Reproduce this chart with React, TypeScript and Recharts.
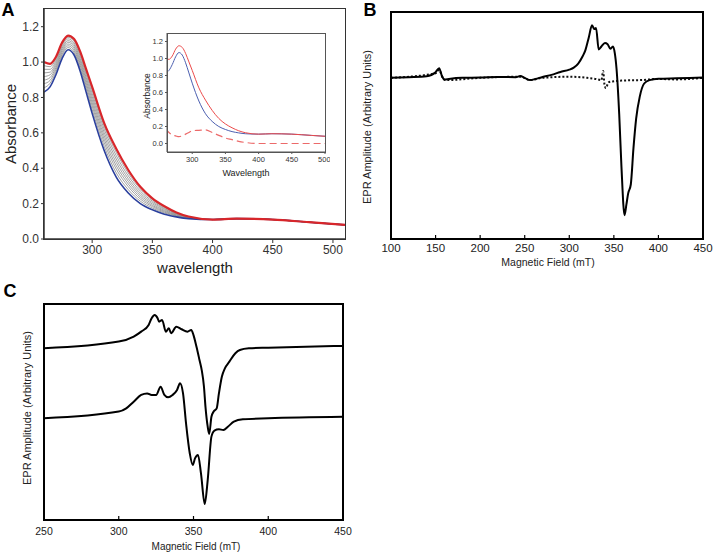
import { LineChart, Line, XAxis, YAxis } from "recharts";

// Panel A: UV-vis spectra (absorbance vs wavelength, nm)
const wavelengths = [260, 265, 270, 275, 280, 285, 290, 295, 300, 310, 320, 330, 340, 350, 360, 370, 380, 400, 420, 450, 480, 510];
const blueSpectrum = [0.83, 0.86, 0.93, 1.02, 1.07, 1.04, 0.95, 0.83, 0.71, 0.5, 0.35, 0.26, 0.2, 0.165, 0.14, 0.125, 0.115, 0.11, 0.115, 0.11, 0.095, 0.08];
const redSpectrum = [1.0, 0.99, 1.03, 1.11, 1.15, 1.13, 1.06, 0.96, 0.86, 0.655, 0.51, 0.39, 0.295, 0.23, 0.185, 0.15, 0.127, 0.11, 0.115, 0.11, 0.095, 0.08];
const gray1 = [0.855, 0.88, 0.945, 1.035, 1.082, 1.054, 0.966, 0.85, 0.732, 0.524, 0.374, 0.279, 0.214, 0.175, 0.147, 0.129, 0.117, 0.11, 0.115, 0.11, 0.095, 0.08];
const gray2 = [0.878, 0.896, 0.958, 1.045, 1.092, 1.065, 0.981, 0.866, 0.752, 0.545, 0.395, 0.296, 0.226, 0.183, 0.152, 0.132, 0.119, 0.11, 0.115, 0.11, 0.095, 0.08];
const gray3 = [0.898, 0.912, 0.97, 1.056, 1.102, 1.076, 0.994, 0.882, 0.77, 0.564, 0.414, 0.311, 0.237, 0.19, 0.157, 0.135, 0.12, 0.11, 0.115, 0.11, 0.095, 0.08];
const gray4 = [0.918, 0.928, 0.982, 1.067, 1.112, 1.087, 1.007, 0.898, 0.788, 0.583, 0.433, 0.326, 0.248, 0.198, 0.162, 0.138, 0.122, 0.11, 0.115, 0.11, 0.095, 0.08];
const gray5 = [0.939, 0.943, 0.994, 1.078, 1.121, 1.098, 1.02, 0.913, 0.806, 0.602, 0.452, 0.341, 0.259, 0.206, 0.168, 0.141, 0.123, 0.11, 0.115, 0.11, 0.095, 0.08];
const gray6 = [0.959, 0.959, 1.006, 1.088, 1.131, 1.108, 1.034, 0.929, 0.824, 0.621, 0.471, 0.357, 0.271, 0.214, 0.173, 0.144, 0.124, 0.11, 0.115, 0.11, 0.095, 0.08];
const gray7 = [0.98, 0.974, 1.018, 1.099, 1.14, 1.119, 1.047, 0.944, 0.842, 0.638, 0.49, 0.373, 0.283, 0.222, 0.179, 0.147, 0.126, 0.11, 0.115, 0.11, 0.095, 0.08];
const differenceSpectrum = [0.17, 0.13, 0.1, 0.09, 0.08, 0.09, 0.11, 0.13, 0.15, 0.155, 0.16, 0.13, 0.095, 0.065, 0.045, 0.025, 0.012, 0.0, 0.0, 0.0, 0.0, 0.0];
const grayKeys = ["g1", "g2", "g3", "g4", "g5", "g6", "g7"];
const grays = [gray1, gray2, gray3, gray4, gray5, gray6, gray7];

const absTicks = [0, 0.2, 0.4, 0.6, 0.8, 1.0, 1.2];
const wlTicksMain = [300, 350, 400, 450, 500];

// Panel B: EPR spectra, 100-450 mT
const fieldBSample = [100, 120, 140, 150, 154, 157, 160, 165, 180, 200, 220, 240, 245, 250, 256, 262, 270, 280, 290, 300, 305, 310, 315, 318, 322, 325.5, 328, 330, 333, 336, 340, 343, 346, 349, 351, 353, 356, 358.5, 362, 364, 366, 369, 372, 375, 379, 384, 390, 400, 420, 450];
const eprBSample = [71.0, 71.3, 71.7, 73.5, 75.2, 72, 70.2, 70.5, 71, 71.1, 71.4, 71.3, 71.8, 71, 70, 70.5, 71.4, 72.3, 73.6, 74.6, 75.5, 77.3, 80.5, 83.1, 89, 94.2, 92.5, 93, 83.5, 84.8, 86.3, 85.8, 83.8, 84.8, 82, 75, 55, 32, 10.5, 15, 20, 24, 40, 53, 62.6, 68.5, 70, 70.6, 70.8, 71.1];
const fieldBControl = [100, 150, 154, 158, 162, 200, 245, 256, 270, 300, 320, 330, 336, 338, 339.5, 341, 344, 350, 360, 380, 400, 420, 450];
const eprBControl = [71, 73, 74.5, 71, 70, 71, 71.5, 70, 71, 71.5, 71, 70.5, 70, 74, 68, 66.5, 69, 69.5, 69.8, 70, 70.5, 70.3, 71];
const fieldTicksB = [100, 150, 200, 250, 300, 350, 400, 450];

// Panel C: EPR spectra, 250-450 mT
const fieldCUpper = [250, 300, 310, 315, 320, 322, 324, 326, 327, 329, 331.5, 333.5, 335, 338.5, 342, 346, 348.5, 350, 352, 354, 355.5, 357, 358, 359.5, 360.5, 362, 363.5, 365.5, 367, 369, 371, 374, 378, 381, 387, 400, 450];
const eprCUpper = [79.5, 82.6, 84.9, 87.2, 90.3, 93.4, 94.9, 93.4, 91.8, 92.6, 87.2, 88.8, 86.5, 89.5, 88.3, 87.2, 88, 85.6, 80.2, 74.1, 69.4, 61.7, 52.5, 43.2, 39.8, 47.8, 50.2, 51.7, 58.6, 66.4, 70.2, 73.3, 77.2, 78.7, 79.5, 79.8, 80.6];
const fieldCLower = [250, 300, 305, 310, 315, 319, 322, 325, 328, 330.5, 333, 336, 339, 341, 343, 345, 347.5, 349.5, 351, 353, 355, 357.5, 359.5, 362, 364, 367, 370, 373, 377, 383, 400, 450];
const eprCLower = [47.1, 50.2, 51.7, 54.8, 57.9, 58.6, 57.9, 57.9, 61.7, 57.9, 56.8, 57.9, 60.2, 63.3, 58.6, 44.8, 30.9, 25.5, 28.5, 30.1, 21.6, 7.4, 18.5, 38.6, 41.4, 42, 41.7, 43.2, 45.5, 46.6, 47.1, 47.8];
const fieldTicksC = [250, 300, 350, 400, 450];

const zip = (xs: number[], ys: number[]) => xs.map((x, i) => ({ x, y: ys[i] }));

const spectraTable = wavelengths.map((wl, i) => {
  const row: Record<string, number> = {
    wl,
    blue: blueSpectrum[i],
    red: redSpectrum[i],
    diff: differenceSpectrum[i],
  };
  grays.forEach((g, k) => {
    row[grayKeys[k]] = g[i];
  });
  return row;
});

const FONT = "'Liberation Sans', Arial, sans-serif";

type TextProps = {
  x: number;
  y: number;
  text: string;
  size: number;
  rotate?: boolean;
  bold?: boolean;
};

function Caption({ x, y, text, size, rotate = false, bold = false }: TextProps) {
  return (
    <div
      style={{
        position: "absolute",
        left: x,
        top: y,
        transform: `translate(-50%, -50%)${rotate ? " rotate(-90deg)" : ""}`,
        fontSize: size,
        fontWeight: bold ? "bold" : "normal",
        color: bold ? "#000" : "#222",
        whiteSpace: "nowrap",
        lineHeight: 1,
      }}
    >
      {text}
    </div>
  );
}

// box drawn around a plot area (left, top, right, bottom in page pixels)
function Frame({ box, width, color }: { box: number[]; width: number; color: string }) {
  const [l, t, r, b] = box;
  return (
    <div
      style={{
        position: "absolute",
        left: l - width / 2,
        top: t - width / 2,
        width: r - l + width,
        height: b - t + width,
        border: `${width}px solid ${color}`,
        boxSizing: "border-box",
        pointerEvents: "none",
      }}
    />
  );
}

function App() {
  const axisA = { stroke: "#333", strokeWidth: 1.5 };
  const axisEpr = { stroke: "#000", strokeWidth: 2 };
  const sampleB = zip(fieldBSample, eprBSample);
  const upperC = zip(fieldCUpper, eprCUpper);

  return (
    <div
      style={{
        position: "absolute",
        left: 0,
        top: 0,
        width: 713,
        height: 553,
        background: "#fff",
        fontFamily: FONT,
      }}
    >
      {/* Panel A */}
      <div style={{ position: "absolute", left: 0, top: 0 }}>
        <LineChart width={360} height={275} data={spectraTable} margin={{ top: 9, right: 15, left: 0, bottom: 6 }}>
          <XAxis
            dataKey="wl"
            type="number"
            domain={[260, 510]}
            ticks={wlTicksMain}
            allowDataOverflow
            height={30}
            tickSize={4}
            tickMargin={2}
            axisLine={axisA}
            tickLine={{ stroke: "#333" }}
            tick={{ fontSize: 12, fill: "#333" }}
          />
          <YAxis
            type="number"
            domain={[0, 1.3]}
            ticks={absTicks}
            allowDataOverflow
            width={44}
            tickSize={3}
            tickMargin={2}
            axisLine={axisA}
            tickLine={{ stroke: "#333" }}
            tick={{ fontSize: 12, fill: "#333" }}
            tickFormatter={(v: number) => v.toFixed(1)}
          />
          {grayKeys.map((k) => (
            <Line key={k} type="monotone" dataKey={k} stroke="#8a8a8a" strokeWidth={0.8} dot={false} isAnimationActive={false} />
          ))}
          <Line type="monotone" dataKey="blue" stroke="#2a3f9d" strokeWidth={1.6} dot={false} isAnimationActive={false} />
          <Line type="monotone" dataKey="red" stroke="#d8262a" strokeWidth={2.2} dot={false} isAnimationActive={false} />
        </LineChart>
      </div>
      <Frame box={[44, 9, 345, 239]} width={1.5} color="#333" />

      {/* Panel A inset */}
      <div style={{ position: "absolute", left: 140, top: 25 }}>
        <LineChart width={190} height={160} data={spectraTable} margin={{ top: 8, right: 5, left: 0, bottom: 13 }}>
          <XAxis
            dataKey="wl"
            type="number"
            domain={[262, 500]}
            ticks={wlTicksMain}
            allowDataOverflow
            height={20}
            tickSize={2}
            tickMargin={3}
            axisLine={{ stroke: "#555", strokeWidth: 1 }}
            tickLine={{ stroke: "#555" }}
            tick={{ fontSize: 7.5, fill: "#333" }}
          />
          <YAxis
            type="number"
            domain={[-0.1, 1.3]}
            ticks={absTicks}
            allowDataOverflow
            width={27}
            tickSize={2}
            tickMargin={2}
            axisLine={{ stroke: "#555", strokeWidth: 1 }}
            tickLine={{ stroke: "#555" }}
            tick={{ fontSize: 7.5, fill: "#333" }}
            tickFormatter={(v: number) => v.toFixed(1)}
          />
          <Line type="monotone" dataKey="blue" stroke="#4c5fb0" strokeWidth={1} dot={false} isAnimationActive={false} />
          <Line type="monotone" dataKey="red" stroke="#ec4a4a" strokeWidth={1} dot={false} isAnimationActive={false} />
          <Line type="monotone" dataKey="diff" stroke="#ec6a6a" strokeWidth={1.2} strokeDasharray="7 4" dot={false} isAnimationActive={false} />
        </LineChart>
      </div>
      <Frame box={[167, 33, 325, 152]} width={1} color="#555" />

      {/* Panel B */}
      <div style={{ position: "absolute", left: 360, top: 0 }}>
        <LineChart width={353} height={275} margin={{ top: 11, right: 10, left: 0, bottom: 6 }}>
          <XAxis
            dataKey="x"
            type="number"
            domain={[100, 450]}
            ticks={fieldTicksB}
            allowDataOverflow
            height={30}
            tickSize={-4}
            tickMargin={9}
            axisLine={axisEpr}
            tickLine={{ stroke: "#000", strokeWidth: 1.2 }}
            tick={{ fontSize: 11.5, fill: "#222" }}
          />
          <XAxis
            xAxisId="top"
            orientation="top"
            dataKey="x"
            type="number"
            domain={[100, 450]}
            ticks={fieldTicksB}
            allowDataOverflow
            height={1}
            tickSize={-4}
            tick={false}
            axisLine={false}
            tickLine={{ stroke: "#000", strokeWidth: 1.2 }}
          />
          <YAxis type="number" domain={[0, 100]} allowDataOverflow width={31} tick={false} tickLine={false} axisLine={axisEpr} />
          <Line xAxisId="top" data={sampleB} dataKey="y" stroke="none" dot={false} isAnimationActive={false} />
          <Line data={zip(fieldBControl, eprBControl)} dataKey="y" type="monotone" stroke="#111" strokeWidth={2} strokeDasharray="2 2" dot={false} isAnimationActive={false} />
          <Line data={sampleB} dataKey="y" type="monotone" stroke="#000" strokeWidth={2} dot={false} isAnimationActive={false} />
        </LineChart>
      </div>
      <Frame box={[391, 12, 703, 239]} width={2} color="#000" />

      {/* Panel C */}
      <div style={{ position: "absolute", left: 0, top: 280 }}>
        <LineChart width={360} height={273} margin={{ top: 23, right: 17, left: 0, bottom: 9 }}>
          <XAxis
            dataKey="x"
            type="number"
            domain={[250, 450]}
            ticks={fieldTicksC}
            allowDataOverflow
            height={24}
            tickSize={-4}
            tickMargin={12}
            axisLine={axisEpr}
            tickLine={{ stroke: "#000", strokeWidth: 1.2 }}
            tick={{ fontSize: 10.5, fill: "#222" }}
          />
          <XAxis
            xAxisId="top"
            orientation="top"
            dataKey="x"
            type="number"
            domain={[250, 450]}
            ticks={fieldTicksC}
            allowDataOverflow
            height={1}
            tickSize={-4}
            tick={false}
            axisLine={false}
            tickLine={{ stroke: "#000", strokeWidth: 1.2 }}
          />
          <YAxis type="number" domain={[0, 100]} allowDataOverflow width={44} tick={false} tickLine={false} axisLine={axisEpr} />
          <Line xAxisId="top" data={upperC} dataKey="y" stroke="none" dot={false} isAnimationActive={false} />
          <Line data={upperC} dataKey="y" type="monotone" stroke="#000" strokeWidth={2} dot={false} isAnimationActive={false} />
          <Line data={zip(fieldCLower, eprCLower)} dataKey="y" type="monotone" stroke="#000" strokeWidth={2} dot={false} isAnimationActive={false} />
        </LineChart>
      </div>
      <Frame box={[44, 304, 343, 520]} width={2} color="#000" />

      {/* Titles and panel letters */}
      <Caption x={8} y={10} text="A" size={18} bold />
      <Caption x={370} y={10} text="B" size={18} bold />
      <Caption x={10} y={291} text="C" size={18} bold />
      <Caption x={10} y={124} text="Absorbance" size={15} rotate />
      <Caption x={195} y={267} text="wavelength" size={15} />
      <Caption x={147} y={96} text="Absorbance" size={8.5} rotate />
      <Caption x={246} y={173} text="Wavelength" size={9} />
      <Caption x={367} y={127} text="EPR Amplitude (Arbitrary Units)" size={11} rotate />
      <Caption x={548} y={262} text="Magnetic Field (mT)" size={10.5} />
      <Caption x={27} y={408} text="EPR Amplitude (Arbitrary Units)" size={11} rotate />
      <Caption x={196} y={547} text="Magnetic Field (mT)" size={10} />
    </div>
  );
}

export default App;
